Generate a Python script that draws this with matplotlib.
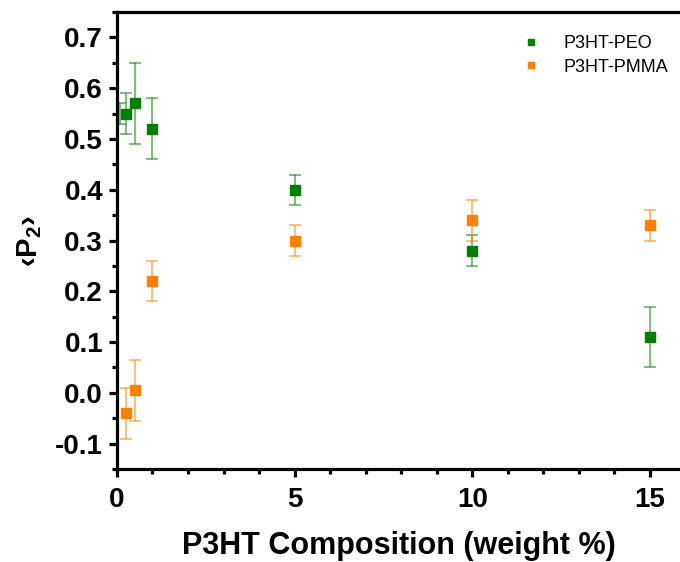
import matplotlib.pyplot as plt
from matplotlib.ticker import MultipleLocator

plt.rcParams['font.family'] = ['Liberation Sans', 'DejaVu Sans']
plt.rcParams['mathtext.fontset'] = 'custom'
plt.rcParams['mathtext.rm'] = 'Liberation Sans:bold'
plt.rcParams['mathtext.bf'] = 'Liberation Sans:bold'

# P3HT-PEO
peo_x = [0.25, 0.5, 1, 5, 10, 15]
peo_y = [0.55, 0.57, 0.52, 0.40, 0.28, 0.11]
peo_err = [0.04, 0.08, 0.06, 0.03, 0.03, 0.06]

# extra PEO error bar hidden against the axis
peo_edge_x = [0.08]
peo_edge_y = [0.55]
peo_edge_err = [0.02]

# P3HT-PMMA
pmma_x = [0.25, 0.5, 1, 5, 10, 15]
pmma_y = [-0.04, 0.005, 0.22, 0.30, 0.34, 0.33]
pmma_err = [0.05, 0.06, 0.04, 0.03, 0.04, 0.03]

green = '#008000'
orange = '#ff8000'

fig = plt.figure(figsize=(6.8, 5.62), dpi=100)
ax = fig.add_axes([0.172, 0.1655, 0.828, 0.813])

for x, y, e, c, lab in [(peo_x, peo_y, peo_err, green, 'P3HT-PEO'),
                        (pmma_x, pmma_y, pmma_err, orange, 'P3HT-PMMA')]:
    ax.errorbar(x, y, yerr=e, fmt='none', ecolor=c, alpha=0.55,
                elinewidth=1.3, capsize=4.5, capthick=1.3)
    ax.plot(x, y, 's', color=c, markersize=6.5, label=lab, zorder=3)

ax.errorbar(peo_edge_x, peo_edge_y, yerr=peo_edge_err, fmt='none',
            ecolor=green, alpha=0.55, elinewidth=1.3, capsize=4.5, capthick=1.3)

ax.set_xlim(0, 15.85)
ax.set_ylim(-0.15, 0.75)
ax.xaxis.set_major_locator(MultipleLocator(5))
ax.xaxis.set_minor_locator(MultipleLocator(1))
ax.yaxis.set_minor_locator(MultipleLocator(0.05))
ax.set_yticks([-0.1, 0.0, 0.1, 0.2, 0.3, 0.4, 0.5, 0.6, 0.7])
ax.set_yticklabels(['-0.1', '0.0', '0.1', '0.2', '0.3', '0.4', '0.5', '0.6', '0.7'])

for s in ['left', 'bottom', 'top']:
    ax.spines[s].set_linewidth(2.3)
ax.spines['right'].set_visible(False)
ax.tick_params(which='major', direction='out', length=6, width=2.3,
               labelsize=20, pad=4)
ax.tick_params(axis='x', which='major', pad=7)
ax.tick_params(which='minor', direction='out', length=3.5, width=2.3)
ax.tick_params(top=False, right=False, which='both')
for lbl in ax.get_xticklabels() + ax.get_yticklabels():
    lbl.set_fontweight('bold')

ax.set_xlabel('P3HT Composition (weight %)', fontsize=22, fontweight='bold', labelpad=13)
ax.set_ylabel('\u2039P$_2$\u203a', fontsize=21, fontweight='bold', labelpad=8)

ax.legend(loc='upper right', bbox_to_anchor=(1.008, 0.985), frameon=False,
          fontsize=13, markerscale=0.75, handletextpad=0.8, labelspacing=0.35)

fig.savefig('out.png', dpi=100)
